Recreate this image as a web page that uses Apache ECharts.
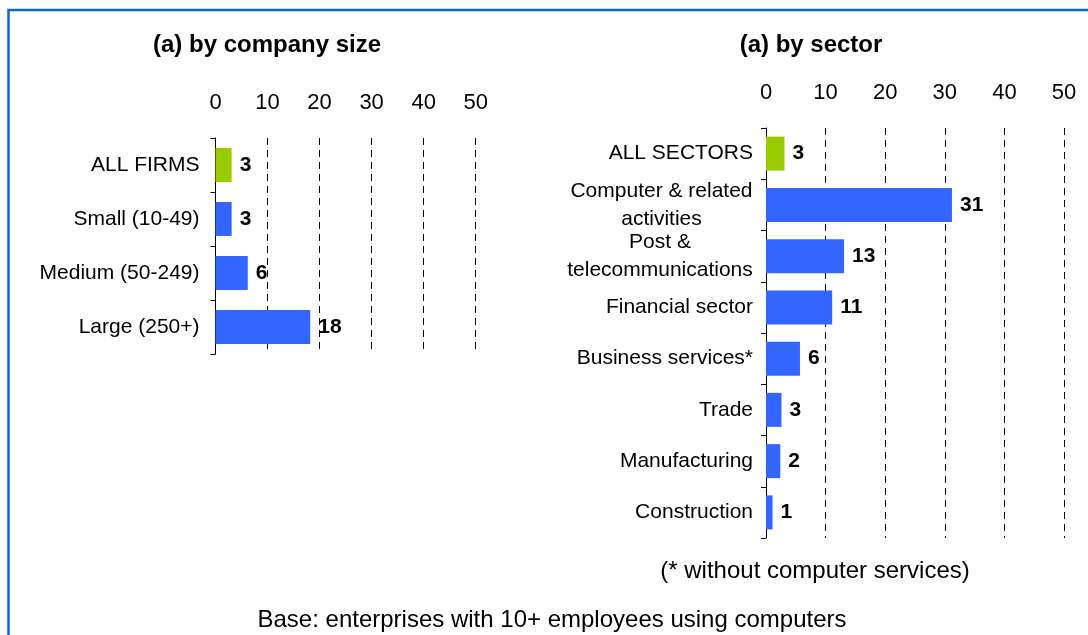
<!DOCTYPE html>
<html>
<head>
<meta charset="utf-8">
<script src="https://cdn.jsdelivr.net/npm/echarts@6/dist/echarts.min.js"></script>
<style>
html,body{margin:0;padding:0;background:#fff;}
#chart{width:1088px;height:635px;}
</style>
</head>
<body>
<div id="chart"></div>
<script>
// ---- data ----
const sizeCategories = ['ALL FIRMS', 'Small (10-49)', 'Medium (50-249)', 'Large (250+)'];
const sizeValues = [3.1, 3.1, 6.2, 18.2];
const sizeLabels = [3, 3, 6, 18];

const sectorCategories = ['ALL SECTORS', 'Computer & related\nactivities', 'Post &\ntelecommunications',
  'Financial sector', 'Business services*', 'Trade', 'Manufacturing', 'Construction'];
const sectorValues = [3.1, 31.2, 13.1, 11.1, 5.7, 2.6, 2.4, 1.1];
const sectorLabels = [3, 31, 13, 11, 6, 3, 2, 1];

const axisMin = 0, axisMax = 50, axisStep = 10;
const titleLeft = '(a) by company size';
const titleRight = '(a) by sector';
const noteText = '(* without computer services)';
const baseText = 'Base: enterprises with 10+ employees using computers';

const BLUE = '#3366FF', GREEN = '#99CC00';
const FONT = '"Liberation Sans", Arial, sans-serif';
const CAT_FS = 21;

const chart = echarts.init(document.getElementById('chart'));

// measure text to centre lines of multi-line labels inside a right-aligned block
const mctx = document.createElement('canvas').getContext('2d');
mctx.font = CAT_FS + 'px ' + FONT;
function buildRich(cats) {
  const rich = {};
  cats.forEach((c, i) => {
    if (c.indexOf('\n') >= 0) {
      const w = Math.max(...c.split('\n').map(l => mctx.measureText(l).width));
      rich['m' + i] = {width: Math.ceil(w), align: 'center', fontSize: CAT_FS, fontFamily: FONT, color: '#000', lineHeight: 28};
    }
  });
  return rich;
}

function xAxisCfg(gridIndex) {
  return {
    gridIndex, type: 'value', position: 'top', min: axisMin, max: axisMax, interval: axisStep,
    axisLine: {show: false}, axisTick: {show: false},
    axisLabel: {color: '#000', fontSize: 22, fontFamily: FONT, margin: 24},
    splitLine: {show: true, lineStyle: {color: '#000', width: 1, type: [7, 5]}}
  };
}
function yAxisCfg(gridIndex, cats, margin) {
  return {
    gridIndex, type: 'category', inverse: true, data: cats,
    axisLine: {show: true, lineStyle: {color: '#000', width: 1}},
    axisTick: {show: true, length: 5, lineStyle: {color: '#000'}},
    axisLabel: {color: '#000', fontSize: CAT_FS, fontFamily: FONT, margin: margin, lineHeight: 28, align: 'right',
      rich: buildRich(cats),
      formatter: (val, idx) => val.indexOf('\n') >= 0
        ? val.split('\n').map(l => '{m' + idx + '|' + l + '}').join('\n')
        : val},
    splitLine: {show: false}
  };
}
function barSeries(idx, values, labels) {
  return {
    type: 'bar', xAxisIndex: idx, yAxisIndex: idx, barWidth: 34,
    data: values.map((v, i) => ({value: v, itemStyle: {color: i === 0 ? GREEN : BLUE}})),
    label: {show: true, position: 'right', distance: 8, color: '#000', fontWeight: 'bold',
      fontSize: 21, fontFamily: FONT, formatter: p => String(labels[p.dataIndex])},
    silent: true
  };
}

chart.setOption({
  backgroundColor: '#fff',
  animation: false,
  grid: [
    {left: 215.5, top: 138, width: 260.2, height: 216},
    {left: 766, top: 128, width: 298, height: 410}
  ],
  xAxis: [xAxisCfg(0), xAxisCfg(1)],
  yAxis: [yAxisCfg(0, sizeCategories, 16), yAxisCfg(1, sectorCategories, 13)],
  series: [barSeries(0, sizeValues, sizeLabels), barSeries(1, sectorValues, sectorLabels)],
  graphic: [
    {type: 'rect', shape: {x: 8.5, y: 10, width: 1200, height: 800}, silent: true,
      style: {fill: 'none', stroke: '#0F66D0', lineWidth: 2.5}},
    {type: 'text', x: 267, y: 45, silent: true,
      style: {text: titleLeft, font: 'bold 24px ' + FONT, fill: '#000', textAlign: 'center', textVerticalAlign: 'middle'}},
    {type: 'text', x: 811, y: 45, silent: true,
      style: {text: titleRight, font: 'bold 24px ' + FONT, fill: '#000', textAlign: 'center', textVerticalAlign: 'middle'}},
    {type: 'text', x: 815, y: 571, silent: true,
      style: {text: noteText, font: '24px ' + FONT, fill: '#000', textAlign: 'center', textVerticalAlign: 'middle'}},
    {type: 'text', x: 552, y: 620, silent: true,
      style: {text: baseText, font: '24px ' + FONT, fill: '#000', textAlign: 'center', textVerticalAlign: 'middle'}}
  ]
});
</script>
</body>
</html>
